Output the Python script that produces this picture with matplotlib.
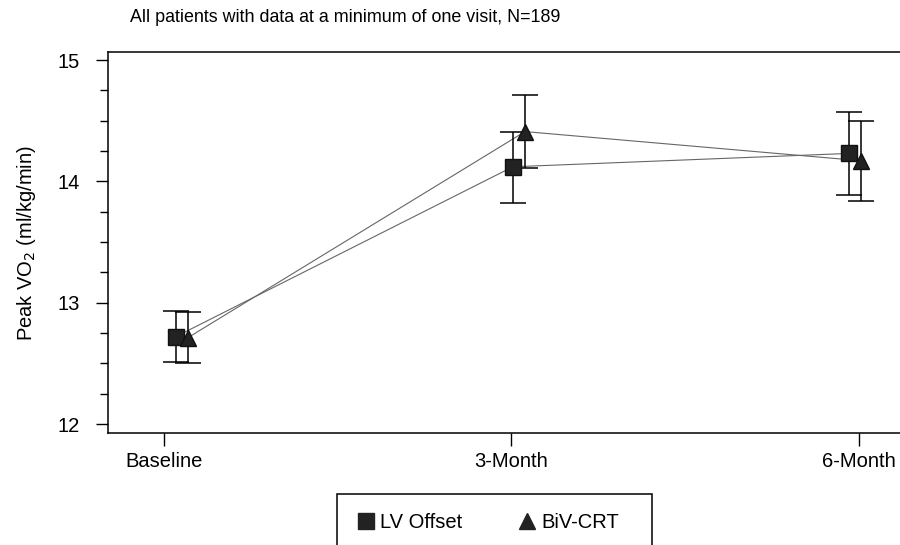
import matplotlib.pyplot as plt
from matplotlib.lines import Line2D
from matplotlib.patches import Rectangle

plt.rcParams["font.family"] = ["Liberation Sans", "DejaVu Sans"]

visits = ["Baseline", "3-Month", "6-Month"]
visit_pos = [0, 1, 2]

# LV Offset
lv_x = [0.034, 1.004, 1.970]
lv_mean = [12.72, 14.12, 14.23]
lv_lo = [12.51, 13.82, 13.89]
lv_hi = [12.93, 14.41, 14.57]

# BiV-CRT
biv_x = [0.068, 1.039, 2.005]
biv_mean = [12.71, 14.41, 14.17]
biv_lo = [12.50, 14.11, 13.835]
biv_hi = [12.92, 14.71, 14.50]


def draw_series(ax, x, mean, lo, hi, marker, size):
    err = [[m - l for m, l in zip(mean, lo)], [h - m for m, h in zip(mean, hi)]]
    ax.plot(x, mean, color="#666666", lw=0.8, zorder=2)
    ax.errorbar(x, mean, yerr=err, fmt="none", ecolor="black", elinewidth=1.1,
                capsize=9.5, capthick=1.1, zorder=3)
    ax.plot(x, mean, linestyle="none", marker=marker, markersize=size,
            color="#222222", markeredgecolor="#111111", zorder=4)


fig = plt.figure(figsize=(9, 5.45), dpi=100)
ax = fig.add_axes([108 / 900, 1 - 433 / 545, 1 - 108 / 900, (433 - 52) / 545])

draw_series(ax, lv_x, lv_mean, lv_lo, lv_hi, "s", 11)
draw_series(ax, biv_x, biv_mean, biv_lo, biv_hi, "^", 12)

ax.set_xlim(-0.161, 2.118)
ax.set_ylim(11.926, 15.066)
ax.set_xticks(visit_pos)
ax.set_xticklabels(visits)
ax.set_yticks([12, 13, 14, 15])
ax.set_yticks([12.25, 12.5, 12.75, 13.25, 13.5, 13.75, 14.25, 14.5, 14.75], minor=True)
ax.tick_params(axis="both", which="major", length=9, width=1, labelsize=14.5, colors="black")
ax.tick_params(axis="y", which="minor", length=6, width=1)
ax.tick_params(axis="x", pad=5)
ax.tick_params(axis="y", pad=11)
ax.spines["right"].set_visible(False)
for side in ("left", "top", "bottom"):
    ax.spines[side].set_linewidth(1.1)

ax.set_ylabel("Peak VO$_2$ (ml/kg/min)", fontsize=14.5, labelpad=14)

fig.text(130 / 900, 1 - 17 / 545, "All patients with data at a minimum of one visit, N=189",
         fontsize=12.9, va="center", ha="left")

fig.patches.append(Rectangle((337 / 900, 1 - 555 / 545), (652 - 337) / 900, (555 - 494) / 545,
                             transform=fig.transFigure, fill=False, edgecolor="black",
                             lw=1.1, clip_on=False))
handles = [
    Line2D([], [], linestyle="none", marker="s", markersize=11, color="#222222"),
    Line2D([], [], linestyle="none", marker="^", markersize=12, color="#222222"),
]
fig.legend(handles, ["LV Offset", "BiV-CRT"], ncol=2, frameon=False, fontsize=14.5,
           loc="center", bbox_to_anchor=(489.5 / 900, 1 - 523 / 545),
           handlelength=0.6, handletextpad=0.4, columnspacing=2.94)

fig.savefig("out.png", dpi=100)
